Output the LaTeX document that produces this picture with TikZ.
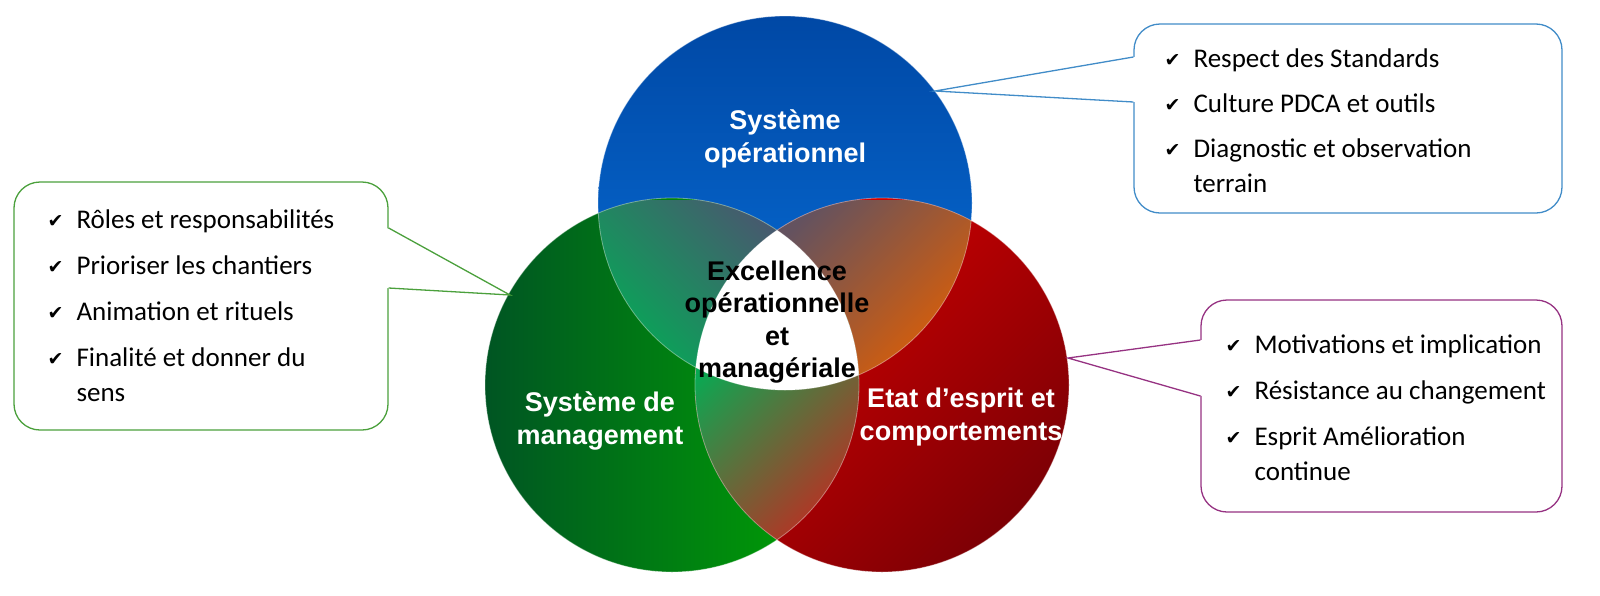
\documentclass[tikz,border=0pt]{standalone}
\usepackage{fontspec}
\setmainfont{Carlito}
\newfontfamily\arialfont{Liberation Sans}
\newfontfamily\symbfont{DejaVu Sans}
\usetikzlibrary{positioning,calc}

\definecolor{bluetop}{RGB}{0,72,165}
\definecolor{bluebot}{RGB}{8,112,218}
\definecolor{greendark}{RGB}{0,85,35}
\definecolor{greenlight}{RGB}{0,168,0}
\definecolor{redlight}{RGB}{216,0,0}
\definecolor{redmid}{RGB}{204,0,0}
\definecolor{reddark}{RGB}{125,0,5}
\definecolor{slate}{RGB}{70,90,110}
\definecolor{lensgreen}{RGB}{0,175,85}
\definecolor{mauve}{RGB}{100,82,95}
\definecolor{lensorange}{RGB}{228,95,0}
\definecolor{lensred}{RGB}{205,35,30}
\definecolor{linegreen}{RGB}{75,160,60}
\definecolor{lineblue}{RGB}{65,140,200}
\definecolor{linepurple}{RGB}{150,50,130}

\newcommand{\rayon}{187pt}
\newcommand{\coche}{\makebox[29pt][l]{\raisebox{1pt}{\symbfont\fontsize{19}{19}\selectfont ✔}}}
\newcommand{\suite}{\hspace*{29pt}}

\tikzset{
    callout/.style = {
        rectangle,
        rounded corners=26pt,
        line width=1.3pt,
        fill=white
    },
    liste/.style = {
        align=left,
        inner sep=0pt,
        font=\fontsize{27}{35}\selectfont
    },
    circlabel/.style = {
        align=center,
        text=white,
        font=\arialfont\bfseries\fontsize{27}{32.5}\selectfont
    },
    pointer/.style = {
        line width=1.3pt
    }
}

\begin{document}
\begin{tikzpicture}[x=1pt, y=-1pt]
\useasboundingbox (0,0) rectangle (1600,595);

% callout boxes
\node (boxman) [callout, draw=linegreen, minimum width=374pt, minimum height=248pt] at (201,306) {};
\node (boxop) [callout, draw=lineblue, minimum width=428pt, minimum height=189pt] at (1348,118.5) {};
\node (boxetat) [callout, draw=linepurple, minimum width=361pt, minimum height=212pt] at (1381.5,406) {};

\coordinate (tipman) at (510,295);
\coordinate (man1) at (boxman.east |- 0,228);
\coordinate (man2) at (boxman.east |- 0,288);
\coordinate (tipop) at (935,91);
\coordinate (op1) at (boxop.west |- 0,57);
\coordinate (op2) at (boxop.west |- 0,102);
\coordinate (tipetat) at (1068,358);
\coordinate (etat1) at (boxetat.west |- 0,340);
\coordinate (etat2) at (boxetat.west |- 0,396);

\fill[white] ([xshift=-2pt]man1) -- (tipman) -- ([xshift=-2pt]man2) -- cycle;
\fill[white] ([xshift=2pt]op1) -- (tipop) -- ([xshift=2pt]op2) -- cycle;
\fill[white] ([xshift=2pt]etat1) -- (tipetat) -- ([xshift=2pt]etat2) -- cycle;

% circles
\coordinate (cop) at (785,203);
\coordinate (cman) at (672,385);
\coordinate (cetat) at (882,385);
\shade[top color=bluetop, bottom color=bluebot] (cop) circle (\rayon);
\shade[left color=greendark, right color=greenlight] (cman) circle (\rayon);
\shade[top color=redlight, middle color=redmid, bottom color=reddark, shading angle=45] (cetat) circle (\rayon);

% overlaps
\begin{scope}
    \clip (cop) circle (\rayon);
    \clip (cman) circle (\rayon);
    \shade[top color=slate, bottom color=lensgreen, shading angle=-45] (595,200) rectangle (800,395);
\end{scope}
\begin{scope}
    \clip (cop) circle (\rayon);
    \clip (cetat) circle (\rayon);
    \shade[top color=mauve, bottom color=lensorange, shading angle=45] (760,200) rectangle (975,395);
\end{scope}
\begin{scope}
    \clip (cman) circle (\rayon);
    \clip (cetat) circle (\rayon);
    \shade[top color=lensgreen, bottom color=lensred, shading angle=45] (690,300) rectangle (865,575);
\end{scope}
\begin{scope}
    \clip (cop) circle (\rayon);
    \clip (cman) circle (\rayon);
    \fill[white] (cetat) circle (\rayon);
\end{scope}
\foreach \c in {cop,cman,cetat}
    \draw[white, opacity=0.4, line width=0.8pt] (\c) circle (\rayon);

% pointers
\draw[pointer, draw=linegreen] (man1) -- (tipman) -- (man2);
\draw[pointer, draw=lineblue] (op1) -- (tipop) -- (op2);
\draw[pointer, draw=linepurple] (etat1) -- (tipetat) -- (etat2);

% labels
\node (lblop) [circlabel] at (785,139) {Système\\opérationnel};
\node (lblcentre) [circlabel, text=black] at (777,322) {Excellence\\opérationnelle\\et\\managériale};
\node (lblman) [circlabel] at (600,421) {Système de\\management};
\node (lbletat) [circlabel] at (961,417) {Etat d’esprit et\\comportements};

% lists
\node (listman) [liste, anchor=west] at ([xshift=34pt]boxman.west) {
    \coche Rôles et responsabilités\\[11pt]
    \coche Prioriser les chantiers\\[11pt]
    \coche Animation et rituels\\[11pt]
    \coche Finalité et donner du\\
    \suite sens};
\node (listop) [liste, anchor=west] at ([xshift=31pt, yshift=-2pt]boxop.west) {
    \coche Respect des Standards\\[10pt]
    \coche Culture PDCA et outils\\[10pt]
    \coche Diagnostic et observation\\
    \suite terrain};
\node (listetat) [liste, anchor=west] at ([xshift=25pt, yshift=-2pt]boxetat.west) {
    \coche Motivations et implication\\[11pt]
    \coche Résistance au changement\\[11pt]
    \coche Esprit Amélioration\\
    \suite continue};
\end{tikzpicture}
\end{document}
